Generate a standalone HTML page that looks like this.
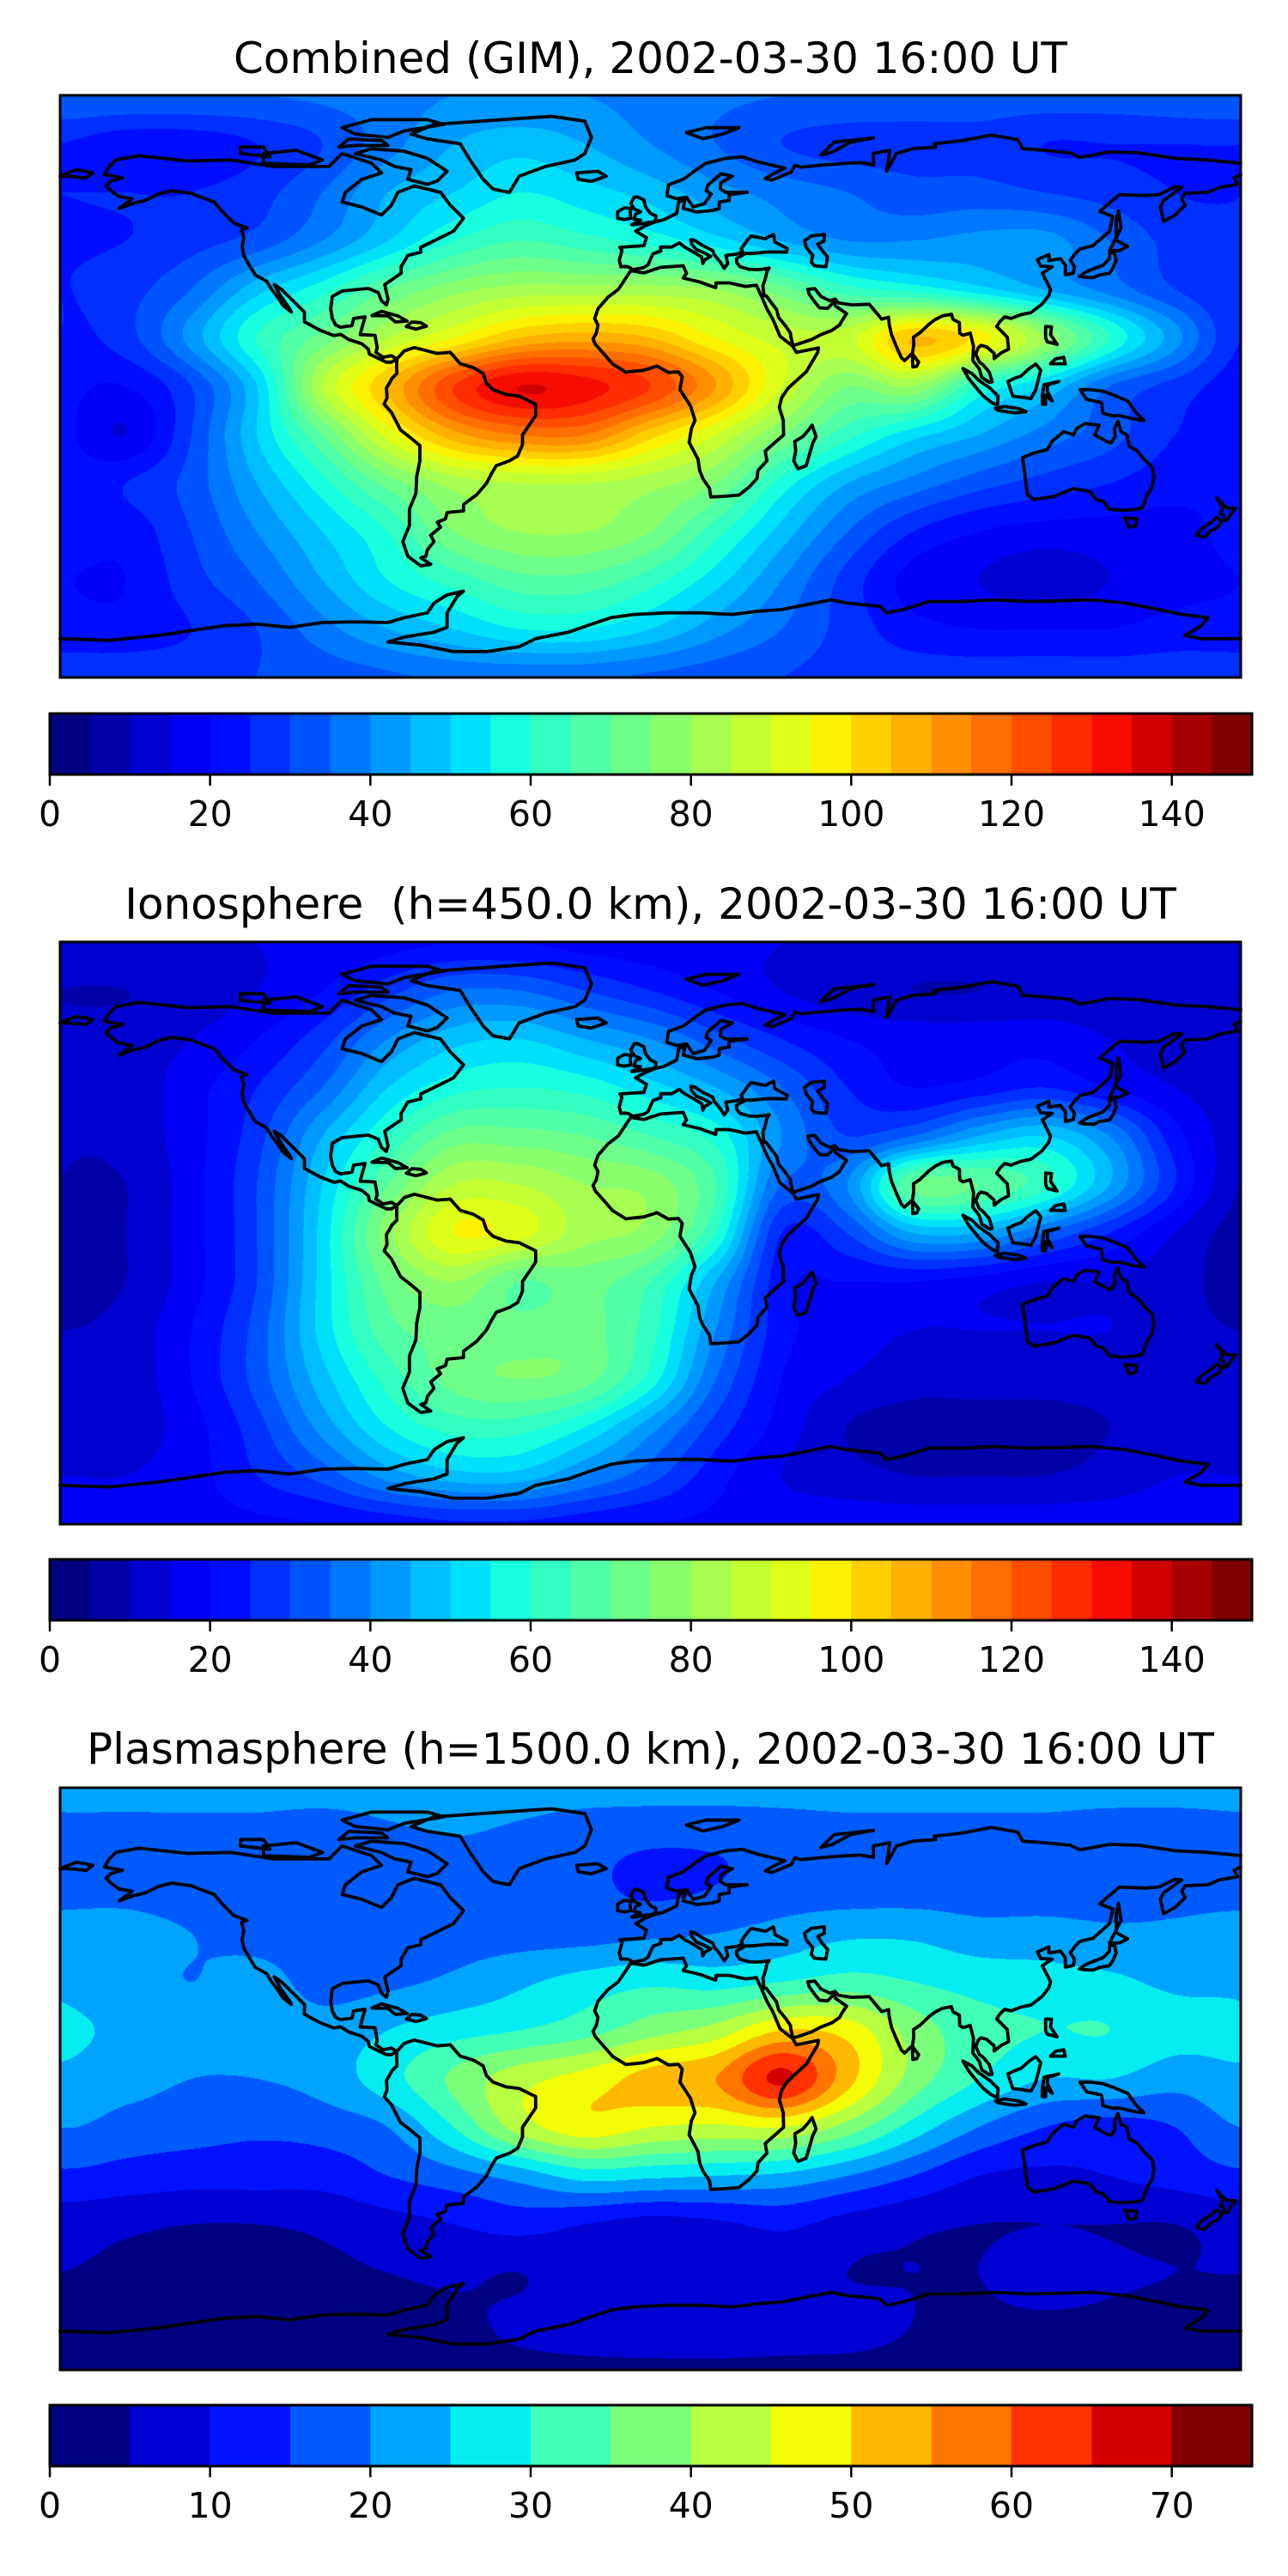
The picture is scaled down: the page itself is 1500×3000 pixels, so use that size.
<!DOCTYPE html>
<html><head><meta charset="utf-8">
<style>
html,body{margin:0;padding:0;background:#fff;}
body{width:1500px;height:3000px;position:relative;overflow:hidden;font-family:"DejaVu Sans","Liberation Sans",sans-serif;}
.title{position:absolute;left:0;width:1515px;text-align:center;font-size:50px;color:#000;line-height:1;white-space:pre;}
canvas{position:absolute;}
svg{position:absolute;left:0;top:0;}
</style></head>
<body>
<div class="title" style="top:43px">Combined (GIM), 2002-03-30 16:00 UT</div>
<div class="title" style="top:1028px">Ionosphere  (h=450.0 km), 2002-03-30 16:00 UT</div>
<div class="title" style="top:2012px">Plasmasphere (h=1500.0 km), 2002-03-30 16:00 UT</div>
<canvas id="c0" width="1375" height="678" style="left:70px;top:111px"></canvas>
<canvas id="c1" width="1375" height="678" style="left:70px;top:1097px"></canvas>
<canvas id="c2" width="1375" height="678" style="left:70px;top:2082px"></canvas>
<svg id="ov" width="1500" height="3000"></svg>
<script>
// grids: rows lat 90..-90 step 15, cols lon -180..180 step 20
const gimGrid = [
[35,35,35,35,36,38,40,40,40,38,36,35,34,33,33,33,33,34,35],
[25,22,22,25,30,38,45,48,45,40,35,30,28,28,28,25,25,25,25],
[25,25,25,28,35,45,50,55,52,48,42,38,35,32,32,30,28,25,25],
[25,25,28,32,40,50,60,65,62,58,52,45,40,40,42,42,35,28,25],
[25,28,35,48,58,70,78,82,82,82,80,72,62,58,52,45,38,30,25],
[25,28,42,60,72,85,95,105,108,105,95,88,88,105,98,80,60,42,25],
[22,20,30,50,85,105,125,135,132,125,110,90,75,80,60,50,35,28,22],
[22,15,30,50,70,92,108,115,115,102,90,75,62,52,45,38,32,25,22],
[22,25,32,45,58,72,82,85,85,82,75,58,45,38,32,28,25,22,22],
[22,22,30,40,50,60,75,80,80,75,62,48,35,25,20,18,18,18,20],
[20,20,28,35,45,55,62,68,68,62,52,40,28,18,15,12,15,18,20],
[22,22,25,30,38,45,50,55,55,50,42,35,28,22,20,20,20,22,22],
[28,28,28,30,32,34,36,36,36,34,32,30,28,28,28,28,28,28,28]];
const ionoGrid = [
[15,15,15,15,16,18,20,20,18,17,16,15,15,15,15,15,15,15,15],
[10,10,12,15,20,28,35,35,30,25,20,15,12,10,10,12,12,12,10],
[12,12,15,20,28,40,48,50,45,40,32,25,20,18,18,18,15,12,12],
[12,12,18,25,35,50,58,60,58,52,45,35,25,20,22,25,20,15,12],
[12,12,18,28,45,60,72,72,70,65,58,40,30,35,45,50,40,22,12],
[10,10,18,30,50,70,85,85,80,78,65,35,40,70,70,62,45,25,12],
[8,10,18,30,52,78,95,92,82,78,60,25,30,45,45,35,25,15,10],
[8,10,18,30,52,72,80,70,72,65,45,22,20,20,18,15,15,12,10],
[10,12,20,32,52,68,72,72,72,62,40,22,18,15,15,15,15,12,12],
[12,12,20,32,48,62,72,75,72,58,35,20,15,12,12,12,12,12,12],
[12,12,18,28,42,55,62,62,55,42,28,18,10,8,8,8,10,12,12],
[15,15,18,25,32,42,48,48,40,32,22,15,12,10,10,10,12,15,15],
[18,18,18,19,20,22,24,24,22,20,19,18,18,18,18,18,18,18,18]];
const plasmaGrid = [
[22,22,22,22,22,22,22,22,22,22,22,22,22,22,22,22,22,22,22],
[18,18,18,18,17,19,20,19,17,16,16,17,18,18,18,18,17,17,18],
[18,18,17,17,16,17,17,17,16,14,15,17,17,17,17,17,17,18,18],
[22,22,20,18,17,17,18,18,18,19,20,22,24,24,22,22,21,21,22],
[24,22,20,22,18,19,21,24,27,29,28,30,32,30,28,27,26,24,24],
[26,24,22,23,22,25,28,30,33,38,42,50,48,38,32,30,30,27,26],
[24,22,20,20,22,28,36,43,47,52,55,66,52,38,30,25,25,22,24],
[20,18,17,16,17,20,30,42,48,45,44,45,38,28,20,15,13,15,20],
[14,13,12,12,12,15,18,22,27,26,25,24,20,15,10,9,10,12,14],
[7,6,5,5,6,8,10,12,10,8,9,11,8,6,5,5,5,5,7],
[5,4,3,3,4,5,6,5,8,8,6,8,5,5,5,9,6,5,5],
[4,3,3,3,3,3,4,6,8,9,9,8,7,5,4,4,4,4,4],
[4,4,4,4,4,4,4,4,4,4,4,4,4,4,4,4,4,4,4]];
const cbTicks1 = [0,20,40,60,80,100,120,140];
const cbTicks3 = [0,10,20,30,40,50,60,70];

const coasts = [
[[-165,68],[-163,70],[-156,71.3],[-141,69.7],[-128,70],[-115,68],[-98,68],[-94,72],[-85,69],[-82,66],[-88,64],[-93,60],[-94,57],[-88,55.5],[-82,53],[-79,56],[-77,60],[-72,62],[-64,60],[-61,56],[-57,52],[-60,48],[-66,45],[-70,43],[-70,41.5],[-74,40.5],[-76,37],[-76,35],[-81,31.5],[-80,27],[-80.5,25.2],[-82,26.5],[-83,29],[-86,30.3],[-89,30],[-94,29.5],[-97,27.8],[-97.5,24],[-97,21],[-96,19],[-94.5,18.3],[-91,18.8],[-90.5,21],[-87,21.5],[-88,18],[-88.5,16],[-84,15.8],[-83.3,12],[-83.7,10.5],[-81.5,9],[-79,9.5],[-77.3,8.5],[-79,7.5],[-80.5,7.5],[-82,8.2],[-85.7,10],[-86,11.5],[-88,13.2],[-92,14.5],[-94.5,16.1],[-96.5,15.7],[-101,17.5],[-105.5,20],[-105.5,23],[-109,26.5],[-112.5,30],[-114.7,31.5],[-112.8,28],[-110,24],[-109.5,23],[-112,25],[-114,28],[-115.5,30],[-117,32.5],[-120.5,34.5],[-122.5,37.8],[-124,40.5],[-124.5,43],[-124,46],[-124.7,48.4],[-123,49],[-127,50.5],[-130.5,54],[-133,57],[-137,58.5],[-140,59.7],[-146,60.5],[-150,59.5],[-154,57.5],[-158,56.5],[-162,55],[-158,58],[-162,58.7],[-164.5,60.5],[-166,62],[-164.5,63.5],[-161,64.5],[-166.5,65.5],[-165,68]],
[[-73,78],[-66,81],[-45,82.5],[-30,83.5],[-20,82],[-18,77],[-20,72],[-23,70],[-32,68],[-40,65],[-43,60],[-48,61],[-51,64],[-53,67],[-55,70],[-58,75],[-68,76.5],[-73,78]],
[[-62,66.5],[-68,70.5],[-75,72.7],[-85,73.5],[-90,72],[-82,70],[-78,68],[-73,67],[-74,64],[-68,62.5],[-65,63.5],[-62,66.5]],
[[-118,69],[-104,68.5],[-100,70],[-108,73],[-118,72],[-118,69]],
[[-80,77],[-90,78],[-94,80],[-85,82.5],[-68,82.5],[-63,81],[-75,79],[-80,77]],
[[-125,72],[-116,71],[-118,74],[-125,74],[-125,72]],
[[-95,74],[-90,74.5],[-80,74.5],[-82,76],[-92,76.5],[-95,74]],
[[-77.3,8.5],[-75,11],[-72,12],[-70,11.5],[-65,10.2],[-61,10.5],[-58,7],[-54,5.8],[-51,4],[-50,1],[-48,-1],[-44,-2.5],[-40,-3],[-35,-5.5],[-35,-9],[-37,-12],[-39,-15],[-39,-18],[-40.5,-21.5],[-43,-23],[-47,-24.5],[-48.5,-27],[-50,-30],[-53,-33.5],[-57,-36.5],[-57,-38.5],[-62,-39],[-62.5,-41],[-65,-42],[-64,-43.5],[-67,-46],[-66,-48],[-68,-50.5],[-68.5,-52.5],[-70,-53],[-67,-55],[-70,-55.5],[-74,-52.5],[-75.5,-48],[-73.5,-43],[-73.5,-38],[-71.5,-33],[-71.3,-28],[-70.3,-23],[-70.3,-18.3],[-73,-16],[-76.2,-13.5],[-79,-8],[-81.2,-5.5],[-80.3,-3.5],[-80.5,-0.5],[-79.6,1],[-78.8,2.5],[-77.3,4],[-77.4,6.5],[-77.3,8.5]],
[[-17,21],[-16,24],[-13,27.5],[-9.8,30],[-6,35.8],[-2,35.1],[3,36.8],[10,37.3],[11,35],[10,33.5],[15,32.3],[19.9,30.5],[20,32],[24,32],[29,30.9],[32.3,31.3],[34,27.5],[35.5,24],[37.2,21],[38.5,18],[39.5,15.5],[43.3,12.5],[44.5,10.5],[51.2,11.9],[51,10.5],[47.5,4.5],[42,-0.5],[40,-3.5],[39.3,-6.5],[40.5,-10.5],[40.6,-15],[35,-20],[35.5,-23],[32.8,-26],[32.5,-28.5],[30,-31.2],[27,-33.6],[22,-34],[18.4,-34.2],[18,-31.5],[16,-28.5],[15,-26],[14.5,-22.5],[11.8,-17.3],[12.5,-13],[13.6,-10.5],[12.2,-6],[9,-1],[9.7,3],[8.5,4.5],[5.5,4.3],[2,6.3],[-2,5],[-7.5,4.4],[-11.5,6.9],[-13.3,9],[-15,11],[-16.8,13],[-17.5,14.7],[-16.5,16.5],[-16,19],[-17,21]],
[[49.3,-12],[50.5,-15.5],[49.5,-17.5],[47.5,-24.5],[45,-25.5],[43.7,-23],[44.3,-20],[44,-17],[46.5,-15.5],[48.2,-13.5],[49.3,-12]],
[[-9,37],[-9.5,39],[-8.7,42],[-9.3,43],[-2,43.5],[-1.2,46],[-4.5,48],[-1.5,49.7],[1.5,50.9],[4,51.5],[8,53.5],[8.6,57],[10.5,57.7],[10,55],[12.5,54.4],[14,53.9],[19,54.4],[21,55],[21,57],[24,57.5],[24,59.3],[29.5,60],[23,60],[21.3,61],[21.5,63],[25,65],[21.5,65.7],[17.5,62.2],[17,60.5],[18.5,59.5],[16.5,56.5],[13,55.5],[11,58.5],[8,58],[5,59],[5.5,62.3],[10,64],[14,67],[17,69],[23,70.5],[28,71],[31,70],[33,69.4],[41,67.5],[38,66],[35,64.3],[37,63.8],[43,66.3],[44,68.3],[46,67.8],[53,68.5],[60,69],[64,69.2],[68,68.5],[68,72],[73,73],[72,66.5],[75,72],[80,73.5],[87,74],[86.5,75],[95,76],[104,77.7],[112,76.3],[113.5,73.5],[120,73],[128,72.2],[131,70.8],[140,72.5],[149,72.2],[160,70.5],[170,70],[180,69]],
[[180,65.5],[178,64.5],[179,62.5],[173.5,61.5],[170,60],[163,59.7],[162,58],[163,56],[160,53],[156.5,51],[155.5,55.5],[156.5,57.5],[162,61.5],[160,61.7],[155,59.3],[151,59],[143,59.3],[137,54.1],[141,52.5],[140,48],[135,43.5],[131,42.5],[129.5,41],[128,39],[129.3,37],[129,35.1],[126.5,34.5],[126.5,37.5],[125,39.5],[121.5,38.9],[121.5,40.8],[118,39.2],[119,37.2],[122.5,37],[119.5,35],[121,32],[122,30],[121.5,28.2],[119.5,25.5],[116,22.8],[113,22.2],[110,21],[108,21.5],[106.5,20],[105.6,18.5],[108.8,15.2],[109.2,11.5],[107,10.4],[104.8,8.6],[104.8,10.2],[102.5,12.2],[100.8,12.7],[100,12],[99.2,10],[100.3,7.5],[101.3,6.8],[103.3,4.5],[104.2,1.4],[103.3,1.3],[101,2.8],[100.3,5.4],[98.3,8],[98.5,12.5],[97.5,16.5],[95.3,15.8],[94.3,16.5],[94.2,19.7],[92.3,20.7],[91.8,22.3],[89,21.8],[86.9,20.7],[85,19.3],[82.2,16.6],[80.2,15.2],[80.3,13],[79.9,10.3],[77.5,8],[76.5,8.9],[74.8,12.8],[73.5,16],[72.8,19.2],[72.6,21.4],[70.5,20.8],[68.7,23],[66.7,25.4],[61.5,25.2],[57.3,25.8],[56.3,27],[54.7,26.5],[52,27.8],[50.1,30.2],[48,30],[48.4,28.5],[50.3,25.8],[51.6,24.3],[54,24.1],[56,26.2],[56.4,24.9],[59.8,22.5],[58.5,20.5],[57.7,19],[55.3,17.3],[52,16],[49.1,14.5],[45.6,13.3],[43.5,12.6],[42.8,15.3],[42.7,16.5],[41.2,18.7],[39.1,21.3],[38.5,23.7],[35.3,28],[34.6,28.1],[34.3,31.2],[34.9,32.8],[35.5,35.5],[36.2,36.6],[34,36.2],[32.5,36.1],[30,36.2],[27.3,37],[26.3,38.3],[26.2,39.5],[29,41.1],[31,41.1],[36,41.6],[41.5,41.5],[41.7,42.6],[38,44.6],[37.5,47],[35,45.6],[33.3,46],[30.7,46.5],[29.6,45.3],[28.7,44],[27.7,42.6],[28.1,41.6],[26.3,40.9],[23,40.5],[23.6,38],[22.5,36.5],[21.5,38.2],[19.4,40.8],[19,42],[16,43.5],[13.6,45.1],[12.3,45.4],[12.6,44],[14,42.3],[16,41.5],[18.4,40.2],[16.5,39.1],[16,38],[15.6,40],[12.7,41.8],[10.5,43],[8.8,44.4],[6.5,43.1],[3.1,43.1],[3.2,41.9],[0.8,41],[0,39.3],[-0.7,37.6],[-2.1,36.7],[-5.4,36.1],[-6.4,36.8],[-7.5,37.1],[-9,37]],
[[-180,65],[-175,67],[-170,66],[-172,64.5],[-178,65],[-180,65]],
[[47,45],[49,46.5],[53,47],[53,45],[51,44],[52.5,41.8],[54,40],[53.5,37],[50,37.3],[49,38.5],[49.5,40.5],[47.5,43],[47,45]],
[[-5,50],[1.5,51],[1.7,52.7],[0,53.5],[-1.5,55.5],[-2,57.6],[-4,58.6],[-5,58.5],[-6,56.5],[-4.8,54.8],[-3,54],[-4.5,53.3],[-5,51.7],[-3,51.4],[-5.7,50],[-5,50]],
[[-6,52],[-6.2,53.8],[-5.8,55],[-8,55.2],[-10,54],[-10,52],[-8,51.6],[-6,52]],
[[-22,64],[-22.5,66],[-16,66.5],[-13.5,65],[-18,63.4],[-22,64]],
[[130.8,34],[133,35.5],[136,36.7],[138,37.5],[140,39.5],[140,41.2],[141.5,41.3],[142,39],[141,36.5],[140,35],[137,34.5],[135,33.6],[132,33.8],[130.8,34]],
[[140,42],[141.7,45.4],[145.5,43.3],[143,42],[140,42]],
[[142,46],[143.5,49],[142.7,54.3],[142,51],[142,46]],
[[120.5,18.5],[122.3,18.4],[122,16],[124,13],[121,13.8],[120.5,15],[120.5,18.5]],
[[122,7],[126.5,7],[126,9],[123.5,8.5],[122,7]],
[[109,1.5],[111,2.5],[113,3.2],[115.5,5.5],[117.5,6.9],[119,5],[118,1],[117.5,-1],[116,-3.8],[114.5,-3.5],[110.5,-3],[110,-1.5],[109,1.5]],
[[95.3,5.5],[98,4],[100,2],[103.5,-0.5],[106,-3],[105.8,-5.8],[104,-5],[101.5,-3],[99,0],[97,2.5],[95.3,5.5]],
[[105.2,-6.8],[108,-6.2],[112.5,-6.9],[114.5,-7.8],[111,-8.2],[106,-7.4],[105.2,-6.8]],
[[119.5,-5.5],[119.5,-3],[120,0.5],[124.5,1.5],[121,0.4],[121,-1.5],[122.5,-4.5],[120.5,-2.7],[120.5,-5.5],[119.5,-5.5]],
[[131,-1],[134,-1],[138,-1.5],[141,-2.6],[145.5,-4.5],[148,-8],[150.5,-10.5],[147,-10],[143,-9],[141,-9.1],[138,-8.3],[137.5,-5],[133,-4],[131,-1]],
[[113.5,-22],[114,-26],[115,-33.5],[117,-35],[123,-34],[129,-31.6],[134,-32.5],[136,-35],[138,-35.5],[140,-38],[144,-38.3],[147.5,-38.1],[150,-37.5],[151.3,-33.8],[153,-31],[153.5,-28],[153,-25],[150.5,-22.5],[148.5,-20],[146,-18.5],[145.3,-15],[143.5,-14],[142.5,-10.7],[141.5,-13],[141.7,-15.5],[140.5,-17.5],[139,-17],[135.5,-15],[136.8,-12],[132.5,-11.5],[130,-13],[129,-15],[126,-14],[122.5,-17],[121,-19.5],[117,-20.6],[113.5,-22]],
[[144.7,-40.7],[148.3,-40.9],[148,-43],[146,-43.6],[144.7,-40.7]],
[[172.7,-34.5],[174.5,-36.5],[176,-37.6],[178.5,-37.7],[177,-39.5],[176,-41.2],[175,-41.5],[174.8,-39.8],[173.8,-39.2],[174.6,-37.5],[172.7,-34.5]],
[[172.7,-40.5],[174.3,-41.7],[173,-43.5],[171,-44.5],[169,-46.6],[166.5,-46],[168,-44],[171,-42],[172.7,-40.5]],
[[79.9,8],[80,9.8],[81.8,7.5],[81.2,6.2],[80,6],[79.9,8]],
[[-84.9,21.9],[-82,23.2],[-77,21.8],[-74.2,20.2],[-77.7,19.9],[-80,21.8],[-84.9,21.9]],
[[-74.4,18.5],[-72.8,19.9],[-70,19.7],[-68.3,18.6],[-71.5,17.7],[-74.4,18.5]],
[[52,71.5],[56,75.5],[68,76.8],[61,75.5],[55.5,72.5],[52,71.5]],
[[11,78.5],[17,80],[27,80],[22,78],[16,76.6],[11,78.5]],
[[-180,-78],[-165,-78.5],[-150,-77],[-140,-75.5],[-130,-74],[-120,-73.5],[-110,-74.5],[-100,-73],[-90,-72.8],[-80,-73],[-75,-71.5],[-68,-70],[-66,-67],[-62,-64.5],[-57,-63.3],[-59,-65],[-62,-70],[-62,-74.5],[-66,-76],[-75,-77.5],[-80,-79],[-70,-80],[-60,-82],[-50,-82],[-40,-80.5],[-35,-78],[-25,-76],[-18,-73.5],[-12,-71.5],[-5,-70.5],[5,-70],[15,-70],[25,-70.5],[33,-69.5],[40,-69],[50,-67],[55,-66],[60,-67],[70,-68],[72,-70],[77,-69],[85,-66.5],[95,-66.5],[105,-66],[115,-66.5],[125,-66.3],[135,-66],[145,-67],[155,-69],[162,-70.5],[170,-71.5],[168,-74],[163,-77],[168,-78],[180,-78]]
];

function jet(t){
  function seg(pts){for(let i=1;i<pts.length;i++){if(t<=pts[i][0]){const a=pts[i-1],b=pts[i];return a[1]+(b[1]-a[1])*(t-a[0])/(b[0]-a[0]);}}return pts[pts.length-1][1];}
  const r=seg([[0,0],[0.35,0],[0.66,1],[0.89,1],[1,0.5]]);
  const g=seg([[0,0],[0.125,0],[0.375,1],[0.64,1],[0.91,0],[1,0]]);
  const b=seg([[0,0.5],[0.11,1],[0.34,1],[0.65,0],[1,0]]);
  return [Math.round(r*255),Math.round(g*255),Math.round(b*255)];
}
function cr(p0,p1,p2,p3,t){return 0.5*((2*p1)+(-p0+p2)*t+(2*p0-5*p1+4*p2-p3)*t*t+(-p0+3*p1-3*p2+p3)*t*t*t);}
function sample(G,lon,lat){
  const fx=(lon+180)/20, fy=(90-lat)/15;
  const ix=Math.floor(fx), iy=Math.floor(fy), tx=fx-ix, ty=fy-iy;
  const nr=G.length, nc=G[0].length-1;
  const col=(c)=>((c%nc)+nc)%nc;
  const row=(r)=>Math.max(0,Math.min(nr-1,r));
  const v=[];
  for(let j=-1;j<=2;j++){const R=G[row(iy+j)];v.push(cr(R[col(ix-1)],R[col(ix)],R[col(ix+1)],R[col(ix+2)],tx));}
  return cr(v[0],v[1],v[2],v[3],ty);
}
function drawMap(id,G,vmax){
  const cv=document.getElementById(id),ctx=cv.getContext('2d');
  const W=cv.width,H=cv.height,img=ctx.createImageData(W,H);
  const n=vmax/5, pal=[];
  for(let i=0;i<n;i++)pal.push(jet(i/(n-1)));
  for(let y=0;y<H;y++){const lat=90-(y+0.5)/H*180;
    for(let x=0;x<W;x++){const lon=-180+(x+0.5)/W*360;
      let k=Math.floor(sample(G,lon,lat)/5);k=Math.max(0,Math.min(n-1,k));
      const c=pal[k],o=(y*W+x)*4;img.data[o]=c[0];img.data[o+1]=c[1];img.data[o+2]=c[2];img.data[o+3]=255;}}
  ctx.putImageData(img,0,0);
}
drawMap('c0',gimGrid,150);drawMap('c1',ionoGrid,150);drawMap('c2',plasmaGrid,75);

const NS='http://www.w3.org/2000/svg', ov=document.getElementById('ov');
function mk(tag,attrs){const e=document.createElementNS(NS,tag);for(const k in attrs)e.setAttribute(k,attrs[k]);ov.appendChild(e);return e;}
const mapTops=[111,1097,2082], mapNames=['combined','ionosphere','plasmasphere'];
mapTops.forEach((top,mi)=>{
  coasts.forEach(poly=>{
    const d=poly.map((p,i)=>(i?'L':'M')+(70+(p[0]+180)/360*1375).toFixed(1)+' '+(top+(90-p[1])/180*678).toFixed(1)).join('');
    const e=mk('path',{d:d,fill:'none',stroke:'#000','stroke-width':3.8,'stroke-linejoin':'round','stroke-linecap':'round'});
    
    
  });
  const fr=mk('rect',{x:70,y:top,width:1375,height:678,fill:'none',stroke:'#000','stroke-width':3});
  
  
});
// colorbars
const cbTops=[831,1816,2801], cbL=58, cbW=1400, cbH=71;
cbTops.forEach((top,ci)=>{
  const vmax=ci===2?75:150, n=vmax/5, ticks=ci===2?cbTicks3:cbTicks1;
  for(let i=0;i<n;i++){
    const c=jet(i/(n-1));
    const r=mk('rect',{x:cbL+i*cbW/n,y:top,width:cbW/n+0.6,height:cbH,fill:'rgb('+c.join(',')+')'});
    
    
  }
  const fr=mk('rect',{x:cbL,y:top,width:cbW,height:cbH,fill:'none',stroke:'#000','stroke-width':3});
  
  
  ticks.forEach(t=>{
    const x=cbL+t/vmax*cbW;
    const tk=mk('line',{x1:x,x2:x,y1:top+cbH,y2:top+cbH+13,stroke:'#000','stroke-width':2.5});
    
    
    const tx=mk('text',{x:x,y:top+cbH+60,'text-anchor':'middle','font-size':41,'font-family':'DejaVu Sans, Liberation Sans, sans-serif',fill:'#000'});
    tx.textContent=String(t);
    
    
  });
});
</script>
</body></html>
